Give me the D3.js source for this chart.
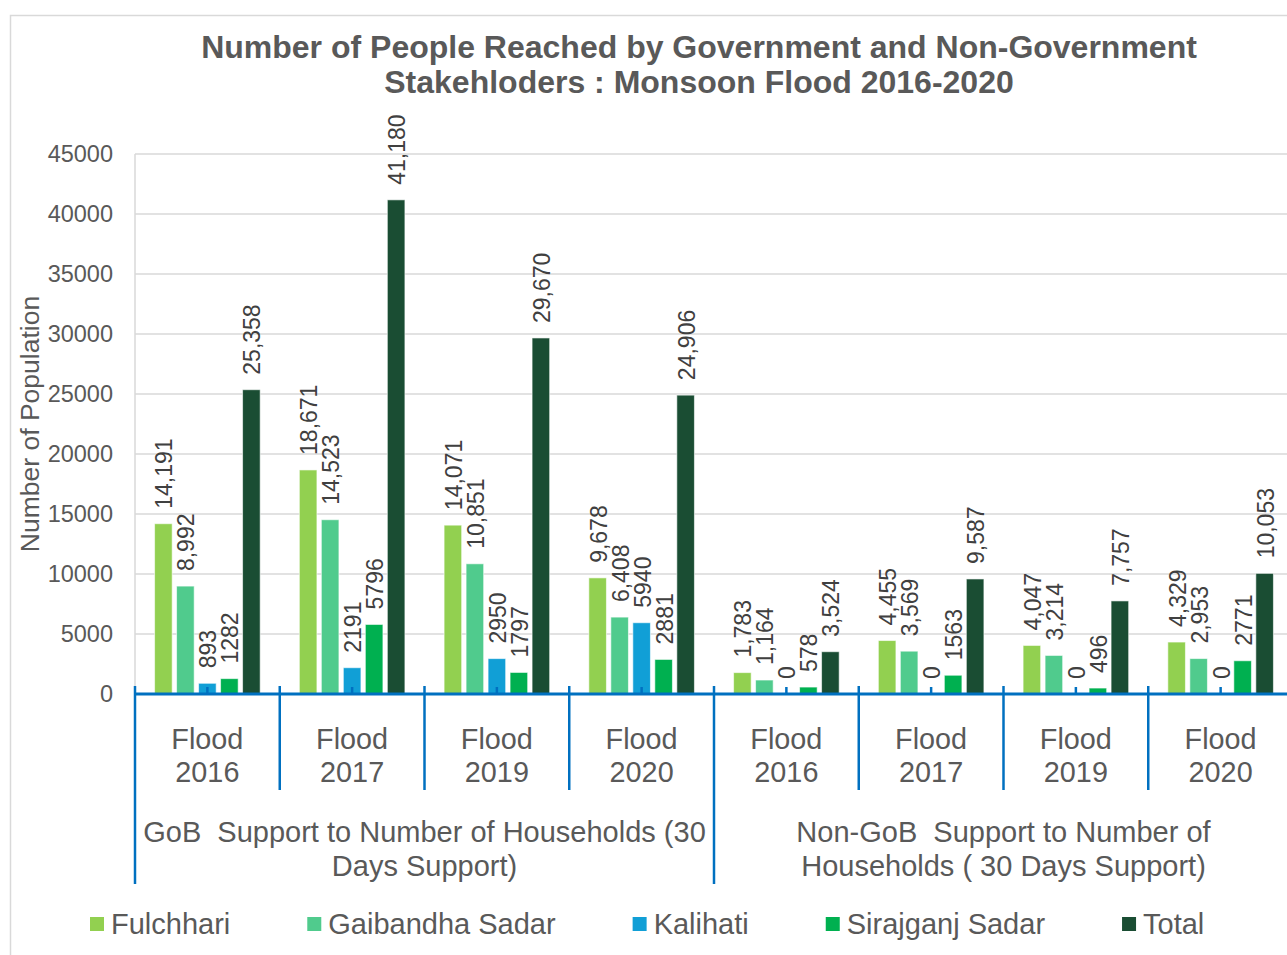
<!DOCTYPE html>
<html>
<head>
<meta charset="utf-8">
<script src="https://cdn.jsdelivr.net/npm/d3@7"></script>
<style>
  html, body { margin: 0; padding: 0; background: #fff; }
  svg { display: block; font-family: "Liberation Sans", Arial, sans-serif; }
  text { white-space: pre; }
</style>
</head>
<body>
<svg id="chart" width="1287" height="955"></svg>
<script>
// ---- data ----
const supportGroups = ["GoB  Support to Number of Households (30 Days Support)",
                       "Non-GoB  Support to Number of Households ( 30 Days Support)"];
const groupLines = [["GoB  Support to Number of Households (30", "Days Support)"],
                    ["Non-GoB  Support to Number of", "Households ( 30 Days Support)"]];
const years = ["2016", "2017", "2019", "2020"];
const categories = [
  "GoB 2016", "GoB 2017", "GoB 2019", "GoB 2020",
  "Non-GoB 2016", "Non-GoB 2017", "Non-GoB 2019", "Non-GoB 2020"
];
const seriesNames = ["Fulchhari", "Gaibandha Sadar", "Kalihati", "Sirajganj Sadar", "Total"];
const fulchhari = [14191, 18671, 14071, 9678, 1783, 4455, 4047, 4329];
const gaibandhaSadar = [8992, 14523, 10851, 6408, 1164, 3569, 3214, 2953];
const kalihati = [893, 2191, 2950, 5940, 0, 0, 0, 0];
const sirajganjSadar = [1282, 5796, 1797, 2881, 578, 1563, 496, 2771];
const total = [25358, 41180, 29670, 24906, 3524, 9587, 7757, 10053];
const yTicks = [0, 5000, 10000, 15000, 20000, 25000, 30000, 35000, 40000, 45000];

const seriesValues = [fulchhari, gaibandhaSadar, kalihati, sirajganjSadar, total];
const seriesColors = ["#92D050", "#50CB8D", "#119FD6", "#00B050", "#1A4D33"];
// Kalihati and Sirajganj labels are shown without thousands separators
const seriesFormats = [d3.format(","), d3.format(","), d3.format("d"), d3.format("d"), d3.format(",")];

// ---- layout ----
const svg = d3.select("#chart");
const plot = { left: 135, top: 154, bottom: 694, right: 135 + 8 * 144.75 };
const textGray = "#595959";
const axisBlue = "#0070C0";
const gridGray = "#D9D9D9";

// outer chart border
svg.append("rect")
  .attr("x", 10.5).attr("y", 15.5)
  .attr("width", 1320).attr("height", 980)
  .attr("fill", "none").attr("stroke", gridGray).attr("stroke-width", 1.5);

const y = d3.scaleLinear().domain([0, 45000]).range([plot.bottom, plot.top]);
const x0 = d3.scaleBand().domain(categories).range([plot.left, plot.right]).padding(0);
const x1 = d3.scaleBand().domain(seriesNames).range([0, x0.bandwidth()])
  .paddingInner(0.2).paddingOuter(0.89);

// gridlines
svg.append("g").selectAll("line").data(yTicks.filter(d => d > 0)).join("line")
  .attr("x1", plot.left).attr("x2", plot.right)
  .attr("y1", d => y(d)).attr("y2", d => y(d))
  .attr("stroke", gridGray).attr("stroke-width", 1.5);

// value axis line
svg.append("line")
  .attr("x1", plot.left).attr("x2", plot.left)
  .attr("y1", plot.top).attr("y2", plot.bottom)
  .attr("stroke", gridGray).attr("stroke-width", 1.5);

// y tick labels
const yAxis = d3.axisLeft(y).tickValues(yTicks).tickFormat(d3.format("d")).tickSize(0).tickPadding(22);
const yg = svg.append("g").attr("transform", `translate(${plot.left},0)`).call(yAxis);
yg.select(".domain").remove();
yg.selectAll("text")
  .attr("fill", textGray).style("font-size", "23.5px")
  .style("font-family", '"Liberation Sans", Arial, sans-serif');

// y axis title
svg.append("text")
  .attr("transform", `translate(39,${(plot.top + plot.bottom) / 2}) rotate(-90)`)
  .attr("text-anchor", "middle")
  .attr("fill", textGray).style("font-size", "26.5px")
  .text("Number of Population");

// bars
const groups = svg.append("g").selectAll("g").data(categories).join("g")
  .attr("transform", d => `translate(${x0(d)},0)`);

groups.selectAll("rect")
  .data((c, i) => seriesNames.map((s, k) => ({ s, k, v: seriesValues[k][i] })))
  .join("rect")
  .attr("x", d => x1(d.s))
  .attr("width", x1.bandwidth())
  .attr("y", d => y(d.v))
  .attr("height", d => y(0) - y(d.v))
  .attr("fill", d => seriesColors[d.k])
  .attr("stroke", d => d.v > 0 ? "#ffffff" : "none")
  .attr("stroke-opacity", 0.6)
  .attr("stroke-width", 1);

// data labels
groups.selectAll("text.val")
  .data((c, i) => seriesNames.map((s, k) => ({ s, k, v: seriesValues[k][i] })))
  .join("text")
  .attr("class", "val")
  .attr("transform", d => `translate(${x1(d.s) + x1.bandwidth() / 2 + 1},${y(d.v) - 15}) rotate(-90)`)
  .attr("dy", "0.35em")
  .attr("text-anchor", "start")
  .attr("fill", "#404040").style("font-size", "23px")
  .text(d => seriesFormats[d.k](d.v));

// category axis
const ax = svg.append("g");
ax.append("line")
  .attr("x1", plot.left).attr("x2", 1300)
  .attr("y1", plot.bottom).attr("y2", plot.bottom)
  .attr("stroke", axisBlue).attr("stroke-width", 3);

// boundaries between categories
const bounds = d3.range(0, categories.length + 1).map(i => plot.left + i * x0.bandwidth());
ax.selectAll("line.major").data(bounds).join("line")
  .attr("class", "major")
  .attr("x1", d => d).attr("x2", d => d)
  .attr("y1", plot.bottom - 8)
  .attr("y2", (d, i) => (i % 4 === 0) ? 884 : 790)
  .attr("stroke", axisBlue).attr("stroke-width", 2.5);

// small tick at each category centre
ax.selectAll("line.minor").data(categories).join("line")
  .attr("class", "minor")
  .attr("x1", d => x0(d) + x0.bandwidth() / 2).attr("x2", d => x0(d) + x0.bandwidth() / 2)
  .attr("y1", plot.bottom - 7).attr("y2", plot.bottom)
  .attr("stroke", axisBlue).attr("stroke-width", 2.5);

// category labels: "Flood" / year
ax.selectAll("text.cat").data(categories).join("text")
  .attr("class", "cat")
  .attr("x", d => x0(d) + x0.bandwidth() / 2)
  .attr("text-anchor", "middle")
  .attr("fill", textGray).style("font-size", "28.8px")
  .each(function (d, i) {
    const t = d3.select(this);
    t.append("tspan").attr("x", x0(d) + x0.bandwidth() / 2).attr("y", 749).text("Flood");
    t.append("tspan").attr("x", x0(d) + x0.bandwidth() / 2).attr("y", 782).text(years[i % 4]);
  });

// support-group labels
supportGroups.forEach((g, gi) => {
  const cx = (bounds[gi * 4] + bounds[gi * 4 + 4]) / 2;
  const t = ax.append("text").attr("text-anchor", "middle")
    .attr("fill", textGray).style("font-size", "29px");
  groupLines[gi].forEach((line, li) => {
    t.append("tspan").attr("x", cx).attr("y", 842 + li * 34).text(line);
  });
});

// legend
const legend = svg.append("g");
let lx = 90;
seriesNames.forEach((s, k) => {
  legend.append("rect")
    .attr("x", lx).attr("y", 917).attr("width", 14).attr("height", 14)
    .attr("fill", seriesColors[k]);
  const t = legend.append("text")
    .attr("x", lx + 21).attr("y", 934)
    .attr("fill", textGray).style("font-size", "29px")
    .text(s);
  lx += 21 + t.node().getComputedTextLength() + 77;
});

// title
const title = svg.append("text").attr("text-anchor", "middle")
  .attr("fill", textGray).style("font-size", "32px").style("font-weight", "bold");
title.append("tspan").attr("x", 699).attr("y", 58)
  .text("Number of People Reached by Government and Non-Government");
title.append("tspan").attr("x", 699).attr("y", 93)
  .text("Stakehloders : Monsoon Flood 2016-2020");
</script>
</body>
</html>
